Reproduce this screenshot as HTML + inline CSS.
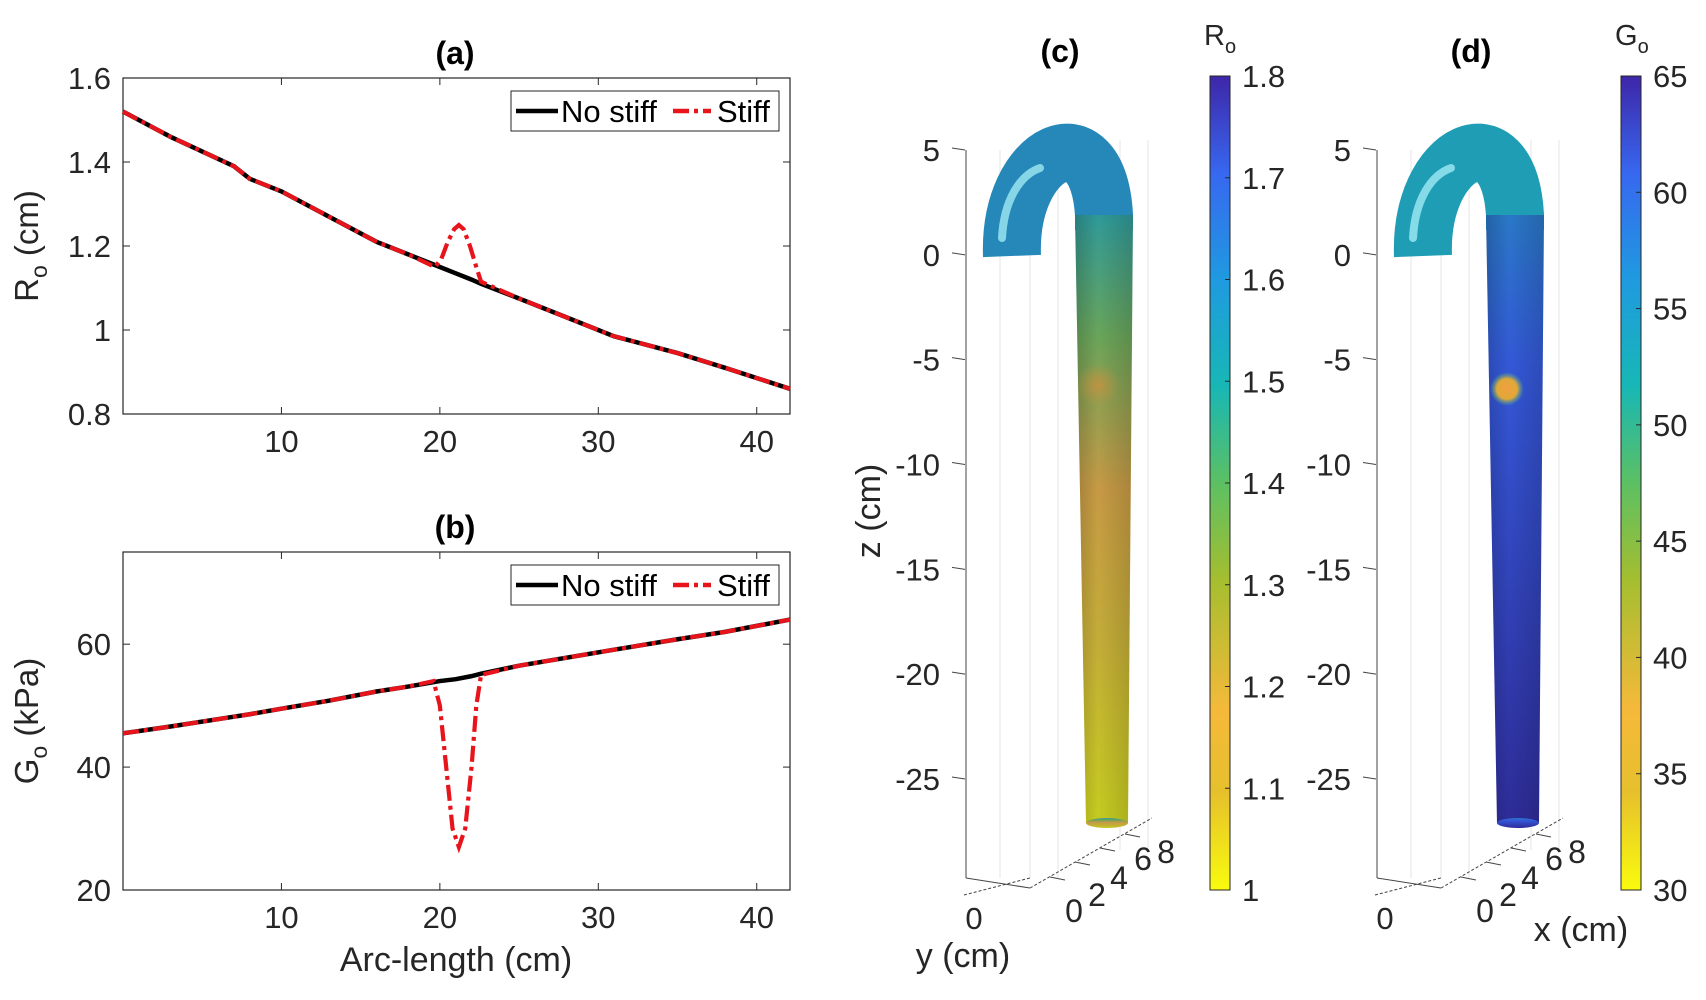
<!DOCTYPE html>
<html><head><meta charset="utf-8">
<style>
html,body{margin:0;padding:0;background:#fff;}
svg{display:block;font-family:"Liberation Sans",sans-serif;}
</style></head>
<body>
<svg id="fig" width="1706" height="1000" viewBox="0 0 1706 1000" xmlns="http://www.w3.org/2000/svg">
<defs>
<linearGradient id="parula" x1="0" y1="1" x2="0" y2="0">
<stop offset="0" stop-color="#f9fb0e"/><stop offset="0.12" stop-color="#e6c02c"/>
<stop offset="0.22" stop-color="#f5b93a"/><stop offset="0.38" stop-color="#a5be2f"/>
<stop offset="0.5" stop-color="#5cc063"/><stop offset="0.62" stop-color="#17b7b6"/>
<stop offset="0.75" stop-color="#1f9ae0"/><stop offset="0.88" stop-color="#3768f0"/>
<stop offset="1" stop-color="#3e26a8"/></linearGradient>
<linearGradient id="tubeC" x1="0" y1="0" x2="0" y2="1">
<stop offset="0" stop-color="#2f9a9a"/><stop offset="0.2" stop-color="#6aa55a"/>
<stop offset="0.45" stop-color="#c79a45"/><stop offset="0.7" stop-color="#c4ad38"/>
<stop offset="1" stop-color="#c6cc20"/></linearGradient>
<linearGradient id="tubeD" x1="0" y1="0" x2="0" y2="1">
<stop offset="0" stop-color="#2a78c8"/><stop offset="0.25" stop-color="#3458d8"/>
<stop offset="1" stop-color="#2e2c98"/></linearGradient>
<linearGradient id="shadeH" x1="0" y1="0" x2="1" y2="0">
<stop offset="0" stop-color="#000" stop-opacity="0.18"/><stop offset="0.4" stop-color="#000" stop-opacity="0"/>
<stop offset="1" stop-color="#000" stop-opacity="0.15"/></linearGradient>
<radialGradient id="spotC"><stop offset="0" stop-color="#c8903e" stop-opacity="0.8"/><stop offset="1" stop-color="#c8903e" stop-opacity="0"/></radialGradient>
<radialGradient id="spotD"><stop offset="0" stop-color="#f0a040"/><stop offset="0.6" stop-color="#e0a838"/><stop offset="1" stop-color="#40b890" stop-opacity="0"/></radialGradient>
</defs>
<g id="charts"></g>
<g id="p3d"></g>
</svg>
<script>
const NS="http://www.w3.org/2000/svg";
const svg=document.getElementById('charts');
function mk(tag,attrs,parent,text){const e=document.createElementNS(NS,tag);for(const k in attrs)e.setAttribute(k,attrs[k]);if(text!==undefined)e.textContent=text;(parent||svg).appendChild(e);return e;}

// ---- data ----
const arcX=[0,3,7,8,10,13,16,18,20,21,22,22.6,25,28,31,35,38,42.1];
const radiusNoStiff=[1.52,1.46,1.39,1.36,1.33,1.27,1.21,1.18,1.15,1.135,1.12,1.11,1.075,1.03,0.985,0.945,0.91,0.86];
const radiusStiffX=[19.7,20.1,20.5,20.9,21.2,21.5,21.9,22.3,22.6];
const radiusStiffY=[1.15,1.17,1.21,1.24,1.25,1.24,1.2,1.15,1.115];
const shearNoStiff=[45.5,46.6,48.2,48.6,49.5,50.8,52.3,53.1,54,54.3,54.8,55.2,56.5,57.8,59.1,60.8,62,64];
const shearStiffX=[19.6,20,20.4,20.8,21.2,21.6,22,22.3,22.6];
const shearStiffY=[54,50,40,30,27,30,40,50,55];
const xTicks=[10,20,30,40];
const rTicks=[0.8,1,1.2,1.4,1.6];
const rTickLabels=["0.8","1","1.2","1.4","1.6"];
const gTicks=[20,40,60];
const zTicks=[5,0,-5,-10,-15,-20,-25];
const cbRTicks=[1,1.1,1.2,1.3,1.4,1.5,1.6,1.7,1.8];
const cbRLabels=["1","1.1","1.2","1.3","1.4","1.5","1.6","1.7","1.8"];
const cbGTicks=[30,35,40,45,50,55,60,65];

const L=123,R=790,xmin=0,xmax=42.1;
const sx=v=>L+(v-xmin)/(xmax-xmin)*(R-L);
const FS=31;

function panel(name,top,bot,ymin,ymax,ticks,tlabels,base,stx,sty,title,ylab){
  const sy=v=>bot-(v-ymin)/(ymax-ymin)*(bot-top);
  const g=mk('g',{});  
  const box=mk('rect',{x:L,y:top,width:R-L,height:bot-top,fill:'none',stroke:'#262626','stroke-width':1.2},g);
   
  xTicks.forEach(t=>{const x=sx(t);
    mk('line',{x1:x,x2:x,y1:bot,y2:bot-7,stroke:'#262626'},g);mk('line',{x1:x,x2:x,y1:top,y2:top+7,stroke:'#262626'},g);
    const lt=mk('text',{x:x,y:bot+38,'text-anchor':'middle','font-size':FS,fill:'#262626'},g,String(t));
     });
  ticks.forEach((t,i)=>{const y=sy(t);
    mk('line',{x1:L,x2:L+7,y1:y,y2:y,stroke:'#262626'},g);mk('line',{x1:R,x2:R-7,y1:y,y2:y,stroke:'#262626'},g);
    const lt=mk('text',{x:L-12,y:y+11,'text-anchor':'end','font-size':FS,fill:'#262626'},g,tlabels[i]);
     });
  const p1=mk('path',{d:arcX.map((v,i)=>(i?'L':'M')+sx(v)+' '+sy(base[i])).join(''),fill:'none',stroke:'#000','stroke-width':4.5},g);
   
  const pts=[];arcX.forEach((v,i)=>{if(v<stx[0])pts.push([v,base[i]]);});
  stx.forEach((v,i)=>pts.push([v,sty[i]]));
  arcX.forEach((v,i)=>{if(v>stx[stx.length-1])pts.push([v,base[i]]);});
  const p2=mk('path',{d:pts.map((p,i)=>(i?'L':'M')+sx(p[0])+' '+sy(p[1])).join(''),fill:'none',stroke:'#e8141c','stroke-width':4.2,'stroke-dasharray':'16 5 4 5'},g);
   
  const tt=mk('text',{x:455,y:top-14,'text-anchor':'middle','font-size':32,'font-weight':'bold',fill:'#000'},g,title);
   
  const cy=(top+bot)/2;
  const yl=mk('text',{transform:`translate(38,${cy}) rotate(-90)`,'text-anchor':'middle','font-size':33,fill:'#262626'},g);
   
  mk('tspan',{},yl,ylab[0]);mk('tspan',{'font-size':23,dy:9},yl,'o');mk('tspan',{dy:-9},yl,ylab[1]);
  const lg=mk('g',{},g);  
  mk('rect',{x:511,y:top+13,width:268,height:40,fill:'#fff',stroke:'#262626'},lg);
  mk('line',{x1:516,x2:558,y1:top+33,y2:top+33,stroke:'#000','stroke-width':4.5},lg);
  mk('text',{x:561,y:top+44,'font-size':FS,fill:'#000'},lg,'No stiff');
  mk('line',{x1:673,x2:711,y1:top+33,y2:top+33,stroke:'#e8141c','stroke-width':4.5,'stroke-dasharray':'16 5 4 5'},lg);
  mk('text',{x:717,y:top+44,'font-size':FS,fill:'#000'},lg,'Stiff');
}
panel('radius-chart',78,414,0.8,1.6,rTicks,rTickLabels,radiusNoStiff,radiusStiffX,radiusStiffY,'(a)',['R',' (cm)']);
panel('shear-modulus-chart',552,890,20,75,gTicks,gTicks.map(String),shearNoStiff,shearStiffX,shearStiffY,'(b)',['G',' (kPa)']);
const xl=mk('text',{x:456,y:971,'text-anchor':'middle','font-size':34,fill:'#262626'},svg,'Arc-length (cm)');
 

// ---- 3D panels ----
const p3=document.getElementById('p3d');
const zTop=150,zBot=779,zMax=5,zMin=-25;
const sz=v=>zTop+(zMax-v)/(zMax-zMin)*(zBot-zTop);
function tube(dx,name,title,grad,arcCol,cbName,cbTicks,cbLabels,cbMin,cbMax,cbSym,xlab,spot){
  const g=mk('g',{transform:`translate(${dx},0)`},p3);  
  [966,1000,1030,1058,1120,1148].forEach((x,i)=>mk('line',{x1:x,x2:x,y1:i<4?150:140,y2:i<4?878:850,stroke:'#e6e6e6'},g));
  mk('line',{x1:966,x2:966,y1:150,y2:878,stroke:'#444','stroke-width':1},g);
  zTicks.forEach(t=>{const y=sz(t);
    mk('line',{x1:952,x2:965,y1:y-2,y2:y,stroke:'#444'},g);
    const tx=mk('text',{x:940,y:y+11,'text-anchor':'end','font-size':FS,fill:'#262626'},g,String(t));
     });
  mk('line',{x1:966,x2:1030,y1:878,y2:888,stroke:'#444'},g);
  mk('line',{x1:1030,x2:1152,y1:888,y2:818,stroke:'#444','stroke-dasharray':'3 2'},g);
  mk('line',{x1:964,x2:1030,y1:895,y2:878,stroke:'#444','stroke-dasharray':'3 2'},g);
  [[1050,877],[1075,862],[1100,848],[1125,834]].forEach(p=>mk('line',{x1:p[0],x2:p[0]+15,y1:p[1],y2:p[1]+3,stroke:'#444'},g));
  [['0',1074,922],['2',1097,906],['4',1119,889],['6',1143,870],['8',1166,863]].forEach(a=>{
    const t=mk('text',{x:a[1],y:a[2],'text-anchor':'middle','font-size':32,fill:'#262626'},g,a[0]);
     });
  const t0=mk('text',{x:974,y:929,'text-anchor':'middle','font-size':FS,fill:'#262626'},g,'0');
   
  mk('path',{d:'M1012 256 C1008 150,1098 108,1104 215 L1104 230',fill:'none',stroke:arcCol,'stroke-width':58},g);
  mk('path',{d:'M1075 215 L1133 215 L1128 823 L1086 823 Z',fill:grad},g);
  mk('path',{d:'M1075 215 L1133 215 L1128 823 L1086 823 Z',fill:'url(#shadeH)'},g);
  mk('ellipse',{cx:1107,cy:823,rx:21,ry:5,fill:grad},g);
  mk('path',{d:'M1002 238 C1004 200,1020 175,1040 168',fill:'none',stroke:'#a8f0f8','stroke-width':8,'stroke-opacity':0.75,'stroke-linecap':'round'},g);
  mk('ellipse',{cx:spot[0],cy:spot[1],rx:spot[2],ry:spot[2],fill:spot[3]},g);
  const tt=mk('text',{x:1060,y:62,'text-anchor':'middle','font-size':32,'font-weight':'bold',fill:'#000'},g,title);
   
  const cb=mk('g',{},g);  
  mk('rect',{x:1210,y:76,width:20,height:814,fill:'url(#parula)',stroke:'#262626','stroke-width':1},cb);
  cbTicks.forEach((t,i)=>{const y=890-(t-cbMin)/(cbMax-cbMin)*814;
    mk('line',{x1:1225,x2:1230,y1:y,y2:y,stroke:'#262626'},cb);
    const tx=mk('text',{x:1242,y:y+11,'font-size':FS,fill:'#262626'},cb,cbLabels[i]);
     });
  const sym=mk('text',{x:1204,y:45,'font-size':29,fill:'#262626'},cb);
   
  mk('tspan',{},sym,cbSym);mk('tspan',{'font-size':20,dy:8},sym,'o');
  const ax=mk('text',{x:xlab[1],y:xlab[2],'text-anchor':'middle','font-size':34,fill:'#262626'},g,xlab[0]);
   
}
tube(0,'radius-3d-plot','(c)','url(#tubeC)','#2688b8','radius-colorbar',cbRTicks,cbRLabels,1,1.8,'R',['y (cm)',963,967],[1098,385,22,'url(#spotC)']);
tube(411,'shear-3d-plot','(d)','url(#tubeD)','#1f9db5','shear-colorbar',cbGTicks,cbGTicks.map(String),30,65,'G',['x (cm)',1170,941],[1096,389,17,'url(#spotD)']);
const zl=mk('text',{transform:'translate(880,511) rotate(-90)','text-anchor':'middle','font-size':34,fill:'#262626'},p3,'z (cm)');
 
</script>
</body></html>
